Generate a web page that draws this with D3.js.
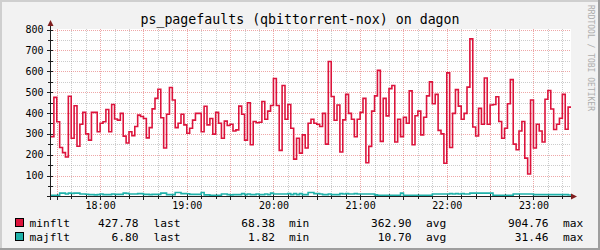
<!DOCTYPE html>
<html>
<head>
<meta charset="utf-8">
<script src="https://cdn.jsdelivr.net/npm/d3@7"></script>
<style>
  body { margin: 0; background: #F2F2F2; }
  svg { display: block; }
  text { font-family: "DejaVu Sans Mono", monospace; }
</style>
</head>
<body>
<script>
// values, one every 2 minutes from 17:26
var minflt = [
  287, 475, 358, 235, 210, 189, 480, 279, 435, 241,
  346, 403, 300, 270, 403, 403, 310, 351, 358, 417,
  310, 441, 371, 366, 398, 289, 256, 310, 291, 335,
  390, 383, 374, 281, 330, 420, 470, 514, 377, 232,
  394, 522, 462, 330, 351, 394, 343, 303, 327, 366,
  398, 398, 310, 432, 343, 374, 299, 403, 351, 279,
  361, 340, 346, 314, 319, 433, 394, 270, 449, 248,
  359, 353, 356, 455, 370, 409, 436, 565, 436, 221,
  532, 370, 441, 327, 179, 279, 208, 295, 232, 351,
  370, 351, 346, 335, 398, 251, 647, 479, 365, 438,
  213, 367, 489, 398, 370, 286, 370, 403, 470, 162,
  240, 409, 482, 604, 264, 470, 386, 517, 532, 261,
  370, 287, 380, 351, 506, 248, 387, 409, 295, 380,
  482, 549, 444, 489, 317, 300, 159, 592, 235, 398,
  512, 433, 370, 398, 524, 755, 333, 290, 422, 346,
  568, 346, 438, 441, 478, 359, 279, 327, 444, 560,
  251, 224, 314, 359, 184, 108, 462, 232, 346, 314,
  261, 466, 508, 419, 321, 346, 375, 489, 322, 428
];

var majflt = [
  6, 6, 6, 16, 16, 12, 16, 15, 16, 16,
  12, 12, 11, 9, 9, 8, 9, 12, 9, 9,
  9, 12, 10, 10, 10, 16, 15, 12, 12, 12,
  14, 14, 10, 10, 9, 10, 10, 10, 16, 16,
  9, 9, 9, 19, 19, 14, 14, 13, 10, 10,
  10, 10, 19, 8, 8, 6, 6, 6, 6, 12,
  12, 9, 8, 9, 9, 9, 14, 9, 12, 9,
  9, 12, 9, 9, 12, 9, 16, 12, 12, 12,
  12, 12, 14, 9, 14, 9, 14, 9, 9, 19,
  19, 14, 14, 12, 9, 9, 12, 9, 9, 9,
  14, 12, 14, 12, 12, 14, 12, 12, 12, 12,
  12, 12, 8, 6, 6, 6, 6, 6, 6, 6,
  6, 16, 6, 6, 6, 6, 6, 6, 6, 6,
  6, 6, 12, 12, 12, 12, 12, 12, 14, 12,
  14, 12, 14, 12, 12, 16, 16, 16, 16, 16,
  16, 16, 16, 6, 6, 6, 6, 6, 6, 6,
  12, 12, 12, 12, 12, 12, 12, 9, 9, 9,
  9, 9, 9, 9, 9, 9, 9, 9, 9, 7
];

var yTicks = [100, 200, 300, 400, 500, 600, 700, 800];
var seriesNames = ["minflt", "majflt"];
var lastVals = ["427.78", "6.80"];
var minVals = ["68.38", "1.82"];
var avgVals = ["362.90", "10.70"];
var maxVals = ["904.76", "31.46"];

var colors = ["#DC143C", "#20B2AA"];

var width = 600,
    height = 250;

var svg = d3.select("body")
            .append("svg")
            .attr("width", width)
            .attr("height", height);

// time axis: 6 hours
var start = new Date(2024, 0, 1, 17, 26),
    end = d3.timeMinute.offset(start, 360);

var x = d3.scaleTime().domain([start, end]).range([51, 571]);
var y = d3.scaleLinear().domain([0, 800]).range([196.5, 29.5]);

// background and 3d border
svg.append("rect").attr("width", width).attr("height", height).attr("fill", "#F2F2F2");
svg.append("rect").attr("width", width).attr("height", 2).attr("fill", "#CFCFCF");
svg.append("rect").attr("width", 2).attr("height", height).attr("fill", "#CFCFCF");
svg.append("rect").attr("y", height - 2).attr("width", width).attr("height", 2).attr("fill", "#9E9E9E");
svg.append("rect").attr("x", width - 2).attr("width", 2).attr("height", height).attr("fill", "#9E9E9E");

// canvas
svg.append("rect")
    .attr("x", 51).attr("y", 29)
    .attr("width", 520).attr("height", 168)
    .attr("fill", "#fff");

var grid = svg.append("g").attr("stroke-width", 1).attr("stroke-dasharray", "1,1");

var xMinor = d3.timeMinute.every(10).range(start, end);
var yAll = y.ticks(16).filter(function(d) { return d > 0; });

function isMajorX(d) { return d.getMinutes() % 30 === 0; }
function px(v) { return Math.round(v) + 0.5; }

// minor grid
grid.selectAll(".vmin")
    .data(xMinor.filter(function(d) { return !isMajorX(d); }))
    .enter().append("line")
    .attr("x1", function(d) { return px(x(d)); })
    .attr("x2", function(d) { return px(x(d)); })
    .attr("y1", 29).attr("y2", 197)
    .attr("stroke", "rgba(143,143,143,0.45)");

grid.selectAll(".hmin")
    .data(yAll.filter(function(d) { return yTicks.indexOf(d) < 0; }))
    .enter().append("line")
    .attr("x1", 51).attr("x2", 571)
    .attr("y1", function(d) { return px(y(d)); })
    .attr("y2", function(d) { return px(y(d)); })
    .attr("stroke", "rgba(143,143,143,0.45)");

// major grid
grid.selectAll(".vmaj")
    .data(xMinor.filter(isMajorX))
    .enter().append("line")
    .attr("x1", function(d) { return px(x(d)); })
    .attr("x2", function(d) { return px(x(d)); })
    .attr("y1", 29).attr("y2", 197)
    .attr("stroke", "rgba(222,79,79,0.5)");

grid.selectAll(".hmaj")
    .data(yTicks)
    .enter().append("line")
    .attr("x1", 51).attr("x2", 571)
    .attr("y1", function(d) { return px(y(d)); })
    .attr("y2", function(d) { return px(y(d)); })
    .attr("stroke", "rgba(222,79,79,0.5)");

// axes
var axisColor = "#1F1F1F";
svg.append("line").attr("x1", 50.5).attr("x2", 50.5).attr("y1", 200).attr("y2", 25)
    .attr("stroke", axisColor);
svg.append("line").attr("x1", 47).attr("x2", 572).attr("y1", 196.5).attr("y2", 196.5)
    .attr("stroke", axisColor);

// tick marks on axes
svg.selectAll(".ytick")
    .data(yAll)
    .enter().append("line")
    .attr("x1", function(d) { return yTicks.indexOf(d) >= 0 ? 47 : 48; })
    .attr("x2", 53)
    .attr("y1", function(d) { return px(y(d)); })
    .attr("y2", function(d) { return px(y(d)); })
    .attr("stroke", axisColor);

svg.selectAll(".xtick")
    .data(xMinor)
    .enter().append("line")
    .attr("x1", function(d) { return px(x(d)); })
    .attr("x2", function(d) { return px(x(d)); })
    .attr("y1", 194)
    .attr("y2", function(d) { return isMajorX(d) ? 200 : 199; })
    .attr("stroke", axisColor);

// arrows
svg.append("path").attr("d", "M47.5,26 L53.5,26 L50.5,20 Z").attr("fill", "#801F1F");
svg.append("path").attr("d", "M571,193.5 L571,199.5 L577,196.5 Z").attr("fill", "#801F1F");

// series lines (step after, last sample held for its 2 minutes)
function toPoints(vals) {
  var pts = vals.map(function(v, i) {
    return { t: d3.timeMinute.offset(start, i * 2), v: v };
  });
  pts.push({ t: d3.timeMinute.offset(start, vals.length * 2), v: vals[vals.length - 1] });
  return pts;
}

var line = d3.line()
    .curve(d3.curveStepAfter)
    .x(function(d) { return x(d.t); })
    .y(function(d) { return y(d.v); });

[minflt, majflt].forEach(function(vals, i) {
  svg.append("path")
      .attr("d", line(toPoints(vals)))
      .attr("fill", "none")
      .attr("stroke", colors[i])
      .attr("stroke-width", 1.6);
});

// y labels
svg.selectAll(".ylab")
    .data(yTicks)
    .enter().append("text")
    .attr("x", 43.5)
    .attr("y", function(d) { return y(d) + 3.6; })
    .attr("text-anchor", "end")
    .attr("font-size", 10)
    .text(function(d) { return d; });

// x labels
svg.selectAll(".xlab")
    .data(d3.timeHour.range(start, end))
    .enter().append("text")
    .attr("x", function(d) { return x(d) + 0.5; })
    .attr("y", 209.3)
    .attr("text-anchor", "middle")
    .attr("font-size", 10)
    .text(d3.timeFormat("%H:%M"));

// title
svg.append("text")
    .attr("x", 300)
    .attr("y", 23.5)
    .attr("text-anchor", "middle")
    .attr("font-size", 13.25)
    .text("ps_pagefaults (qbittorrent-nox) on dagon");

// watermark
svg.append("text")
    .attr("transform", "translate(588,5) rotate(90)")
    .attr("font-size", 8)
    .attr("fill", "#ADADAD")
    .text("RRDTOOL / TOBI OETIKER");

// legend
var legend = svg.selectAll(".legend")
    .data(seriesNames)
    .enter().append("g")
    .attr("transform", function(d, i) { return "translate(0," + (i * 14) + ")"; })
    .attr("font-size", 11.2);

legend.append("rect")
    .attr("x", 15.5).attr("y", 218.5)
    .attr("width", 8).attr("height", 8)
    .attr("fill", function(d, i) { return colors[i]; })
    .attr("stroke", "#000");

legend.append("text").attr("x", 29.5).attr("y", 226.5).text(function(d) { return d; });

var cols = [
  { vals: lastVals, end: 138.5, label: "last", lx: 153.5 },
  { vals: minVals, end: 275, label: "min", lx: 289 },
  { vals: avgVals, end: 411.5, label: "avg", lx: 426 },
  { vals: maxVals, end: 548.5, label: "max", lx: 563 }
];

cols.forEach(function(c) {
  legend.append("text")
      .attr("x", c.end).attr("y", 226.5)
      .attr("text-anchor", "end")
      .text(function(d, i) { return c.vals[i]; });
  legend.append("text")
      .attr("x", c.lx).attr("y", 226.5)
      .text(c.label);
});
</script>
</body>
</html>
